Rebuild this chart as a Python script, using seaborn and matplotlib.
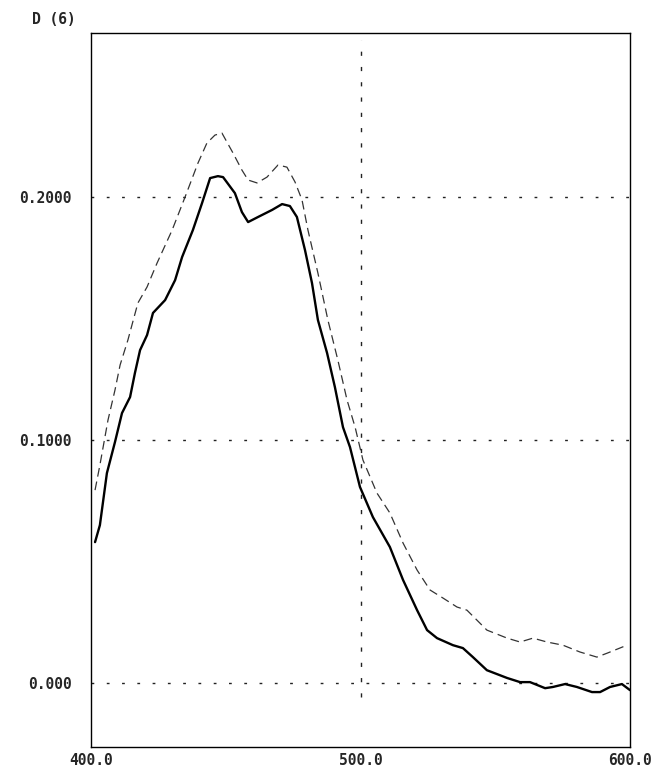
import matplotlib
matplotlib.use("Agg")
import matplotlib.pyplot as plt
import seaborn as sns
import pandas as pd

# wavelength (nm) / optical density
solid_x = [401.5, 403.3, 405.9, 408.9, 411.5, 414.5, 416.3, 418.2, 420.8, 423.0,
           427.5, 431.2, 433.8, 437.8, 441.2, 444.2, 447.1, 449.0, 453.4, 456.0,
           458.3, 462.0, 467.2, 470.9, 473.8, 476.4, 479.4, 482.0, 484.2, 487.6,
           490.5, 493.5, 496.1, 499.8, 504.6, 510.9, 515.8, 521.0, 524.7, 528.4,
           534.3, 538.0, 541.7, 546.9, 554.4, 559.2, 562.9, 568.5, 571.4, 575.9,
           580.3, 585.9, 588.9, 592.6, 597.0, 600.0]
solid_y = [0.0580, 0.0650, 0.0864, 0.0992, 0.1111, 0.1177, 0.1276, 0.1370, 0.1432, 0.1523,
           0.1576, 0.1658, 0.1753, 0.1864, 0.1975, 0.2078, 0.2086, 0.2082, 0.2016, 0.1938,
           0.1897, 0.1918, 0.1947, 0.1971, 0.1963, 0.1918, 0.1782, 0.1646, 0.1494, 0.1358,
           0.1218, 0.1053, 0.0971, 0.0807, 0.0683, 0.0560, 0.0424, 0.0300, 0.0218, 0.0185,
           0.0156, 0.0144, 0.0107, 0.0053, 0.0021, 0.0004, 0.0004, -0.0021, -0.0016, -0.0004,
           -0.0016, -0.0037, -0.0037, -0.0016, -0.0004, -0.0029]

dashed_x = [401.5, 403.3, 406.3, 408.9, 410.8, 413.7, 417.4, 420.8, 424.5, 430.1,
            434.9, 439.7, 443.0, 446.0, 448.6, 452.7, 456.0, 458.3, 461.6, 465.3,
            469.4, 472.7, 475.7, 478.3, 480.5, 484.2, 487.9, 491.6, 495.0, 498.0,
            500.9, 506.1, 510.9, 515.8, 521.0, 525.8, 530.6, 535.8, 539.5, 546.9,
            554.4, 559.2, 564.0, 569.2, 575.1, 581.4, 587.7, 591.5, 598.9]
dashed_y = [0.0794, 0.0897, 0.1082, 0.1206, 0.1309, 0.1412, 0.1564, 0.1630, 0.1728, 0.1864,
            0.2000, 0.2140, 0.2222, 0.2255, 0.2263, 0.2181, 0.2111, 0.2070, 0.2058, 0.2082,
            0.2132, 0.2123, 0.2062, 0.1988, 0.1864, 0.1687, 0.1494, 0.1329, 0.1165, 0.1053,
            0.0918, 0.0782, 0.0700, 0.0576, 0.0465, 0.0383, 0.0350, 0.0313, 0.0300, 0.0218,
            0.0185, 0.0169, 0.0185, 0.0169, 0.0156, 0.0128, 0.0107, 0.0123, 0.0156]

x_ticks = [400, 500, 600]
x_labels = ["400.0", "500.0", "600.0"]
y_ticks = [0.0, 0.1, 0.2]
y_labels = ["0.000", "0.1000", "0.2000"]

sns.set_style("white")
plt.rcParams['font.family'] = ['DejaVu Sans Mono', 'DejaVu Sans']

fig = plt.figure(figsize=(6.58, 7.70), dpi=100)
ax = fig.add_axes([91 / 658, 23 / 770, 539 / 658, 714 / 770])

solid = pd.DataFrame({"nm": solid_x, "D": solid_y})
dashed = pd.DataFrame({"nm": dashed_x, "D": dashed_y})

sns.lineplot(data=dashed, x="nm", y="D", ax=ax, color="#333333", lw=0.9,
             estimator=None, linestyle=(0, (7, 4)))
sns.lineplot(data=solid, x="nm", y="D", ax=ax, color="black", lw=1.7,
             estimator=None)

# dotted reference grid
for yv in y_ticks:
    ax.axhline(yv, color="#222222", lw=1.0, linestyle=(0, (2, 9)), zorder=0)
ax.axvline(500, ymin=0.07, ymax=0.99, color="#222222", lw=1.0,
           linestyle=(0, (3, 8)), zorder=0)

ax.set_xlim(400, 600)
ax.set_ylim(-0.0263, 0.2675)
ax.set_xticks(x_ticks)
ax.set_xticklabels(x_labels)
ax.set_yticks(y_ticks)
ax.set_yticklabels(y_labels)
ax.tick_params(length=0, labelsize=10.5)
ax.tick_params(axis="y", pad=14)
ax.tick_params(axis="x", pad=4)
for lbl in ax.get_xticklabels() + ax.get_yticklabels():
    lbl.set_fontweight("bold")
ax.set_xlabel("")
ax.set_ylabel("")

for sp in ax.spines.values():
    sp.set_color("black")
    sp.set_linewidth(1.0)

fig.text(32 / 658, 1 - 19 / 770, "D (6)", ha="left", va="center",
         fontsize=10.5, fontweight="bold")

fig.savefig("out.png", dpi=100)
